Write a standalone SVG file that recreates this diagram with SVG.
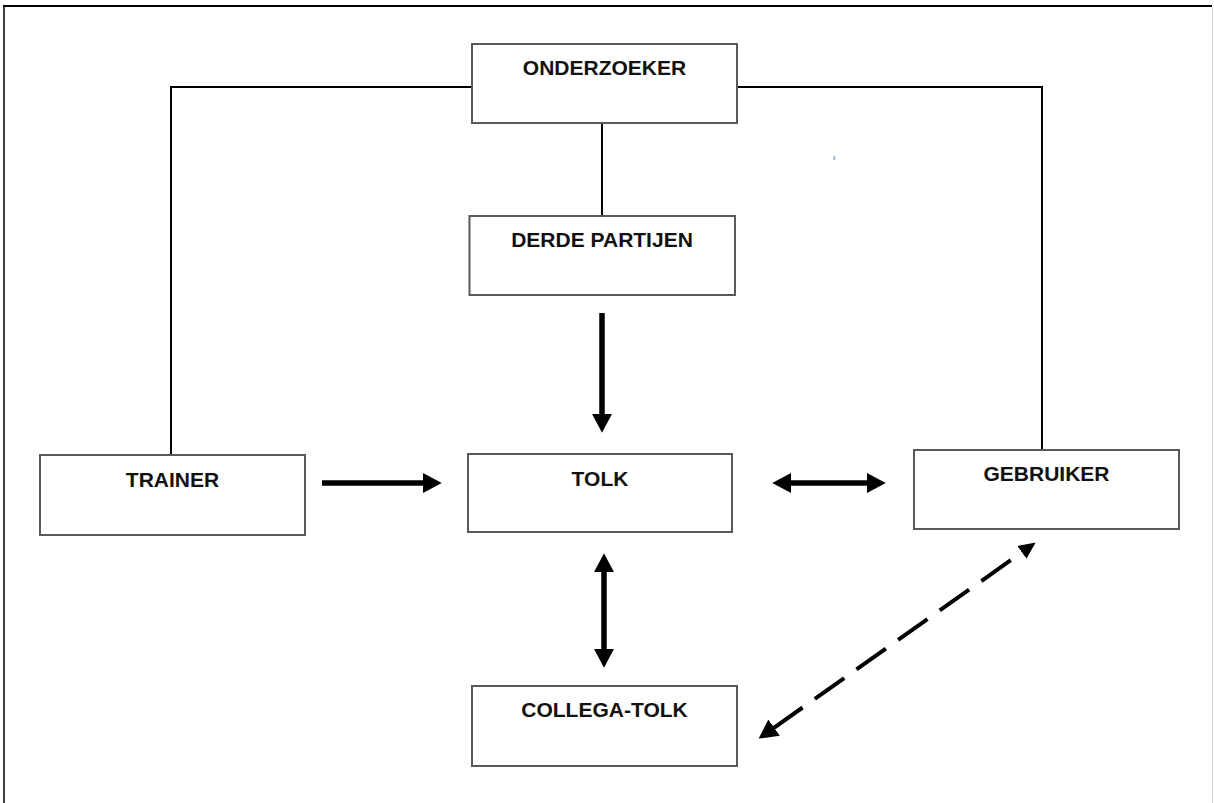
<svg xmlns="http://www.w3.org/2000/svg" width="1214" height="803" viewBox="0 0 1214 803">
  <style>
    .box { fill: #ffffff; stroke: #5a5a5a; stroke-width: 2; }
    .lbl { font-family: "Liberation Sans", Arial, sans-serif; font-weight: bold; font-size: 21px; fill: #111111; text-anchor: middle; }
    .conn { fill: none; stroke: #000000; stroke-width: 2; }
    .thick { fill: none; stroke: #000000; stroke-width: 5.5; }
    .dash { fill: none; stroke: #000000; stroke-width: 4; stroke-dasharray: 36 15; }
  </style>
  <defs>
    <marker id="ah" markerUnits="userSpaceOnUse" markerWidth="20" markerHeight="20" refX="1" refY="9" orient="auto-start-reverse" viewBox="0 0 18 18">
      <path d="M0,0 L17,9 L0,18 Z" fill="#000000"/>
    </marker>
    <marker id="ahs" markerUnits="userSpaceOnUse" markerWidth="18" markerHeight="18" refX="1" refY="7" orient="auto-start-reverse" viewBox="0 0 16 14">
      <path d="M0,0 L15,7 L0,14 Z" fill="#000000"/>
    </marker>
  </defs>
  <rect x="0" y="0" width="1214" height="803" fill="#ffffff"/>
  <g id="frame">
    <line x1="3" y1="6" x2="1212" y2="6" stroke="#000000" stroke-width="2"/>
    <line x1="4" y1="6" x2="4" y2="803" stroke="#000000" stroke-width="1.5"/>
    <line x1="1212.5" y1="7" x2="1212.5" y2="803" stroke="#cfcfcf" stroke-width="1"/>
    <rect x="833.5" y="156" width="1.5" height="4" fill="#8fa8e0"/>
  </g>
  <g id="connectors">
    <polyline class="conn" points="471,87 171,87 171,455"/>
    <polyline class="conn" points="738,87 1042,87 1042,450"/>
    <line class="conn" x1="602" y1="123" x2="602" y2="216"/>
    <line class="thick" x1="602" y1="313" x2="602" y2="415" marker-end="url(#ah)"/>
    <line class="thick" x1="322" y1="483" x2="424" y2="483" marker-end="url(#ah)"/>
    <line class="thick" x1="790" y1="483" x2="868" y2="483" marker-start="url(#ah)" marker-end="url(#ah)"/>
    <line class="thick" x1="604" y1="571" x2="604" y2="650" marker-start="url(#ah)" marker-end="url(#ah)"/>
    <line class="dash" x1="773.2" y1="728.3" x2="1022.8" y2="551.7" marker-start="url(#ah)" marker-end="url(#ahs)"/>
  </g>
  <g id="onderzoeker">
    <rect class="box" x="472" y="44" width="265" height="79"/>
    <text class="lbl" x="604.5" y="75">ONDERZOEKER</text>
  </g>
  <g id="derde-partijen">
    <rect class="box" x="469.5" y="216" width="265.5" height="79"/>
    <text class="lbl" x="602" y="247">DERDE PARTIJEN</text>
  </g>
  <g id="trainer">
    <rect class="box" x="40" y="455" width="265" height="80"/>
    <text class="lbl" x="172.5" y="487">TRAINER</text>
  </g>
  <g id="tolk">
    <rect class="box" x="468" y="454" width="264" height="78"/>
    <text class="lbl" x="600" y="486">TOLK</text>
  </g>
  <g id="gebruiker">
    <rect class="box" x="914" y="450" width="265" height="79"/>
    <text class="lbl" x="1046.5" y="481">GEBRUIKER</text>
  </g>
  <g id="collega-tolk">
    <rect class="box" x="472" y="686" width="265" height="80"/>
    <text class="lbl" x="604.5" y="717">COLLEGA-TOLK</text>
  </g>
</svg>
